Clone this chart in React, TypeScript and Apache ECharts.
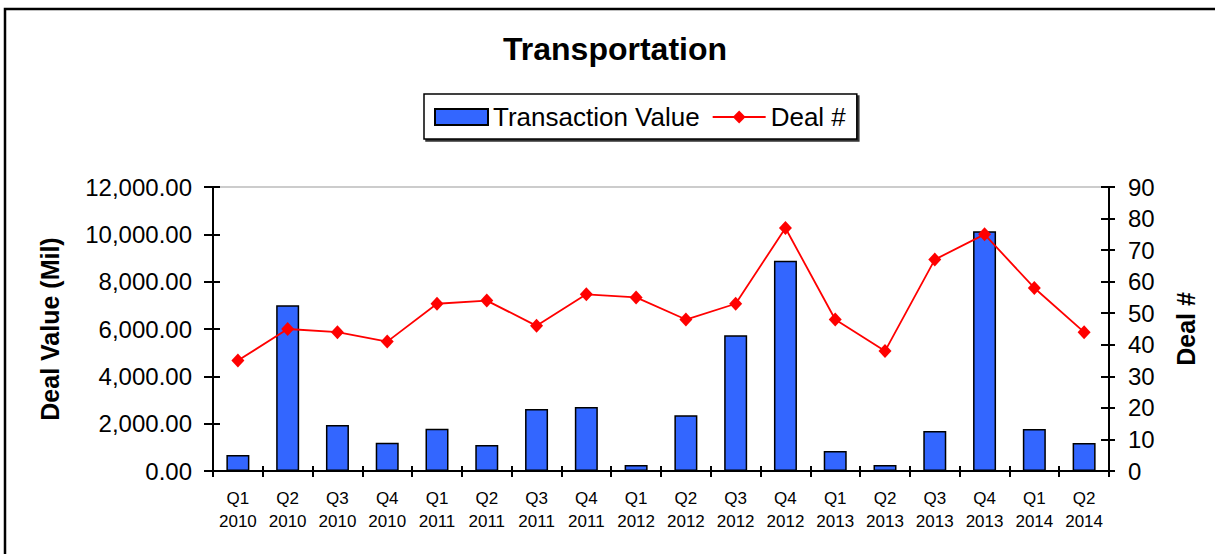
import React, { useEffect, useRef } from "react";
import * as echarts from "echarts";

const categories = [
  "Q1\n2010", "Q2\n2010", "Q3\n2010", "Q4\n2010",
  "Q1\n2011", "Q2\n2011", "Q3\n2011", "Q4\n2011",
  "Q1\n2012", "Q2\n2012", "Q3\n2012", "Q4\n2012",
  "Q1\n2013", "Q2\n2013", "Q3\n2013", "Q4\n2013",
  "Q1\n2014", "Q2\n2014",
];
const transactionValue = [
  680, 7000, 1940, 1190,
  1790, 1100, 2620, 2700,
  250, 2360, 5740, 8880,
  840, 250, 1690, 10130,
  1770, 1180,
];
const dealCount = [
  35, 45, 44, 41,
  53, 54, 46, 56,
  55, 48, 53, 77,
  48, 38, 67, 75,
  58, 44,
];

const FONT = "'Liberation Sans', Arial, sans-serif";

export default function App() {
  const ref = useRef<HTMLDivElement>(null);
  useEffect(() => {
    if (!ref.current) return;
    const chart = echarts.init(ref.current, null, { renderer: "svg" });
    const fmt = (v: number) =>
      v.toLocaleString("en-US", { minimumFractionDigits: 2, maximumFractionDigits: 2 });
    chart.setOption({
      animation: false,
      backgroundColor: "#fff",
      textStyle: { fontFamily: FONT },
      title: {
        text: "Transportation",
        left: 503,
        top: 33,
        padding: 0,
        textStyle: { fontFamily: FONT, fontSize: 32, fontWeight: "bold", color: "#000" },
      },
      graphic: [
        {
          type: "rect",
          shape: { x: 5, y: 9, width: 1240, height: 570 },
          style: { fill: "none", stroke: "#000", lineWidth: 2.5 },
          silent: true,
        },
      ],
      legend: {
        left: 424,
        top: 94,
        padding: [10, 11, 9, 10],
        itemGap: 12,
        itemWidth: 53,
        itemHeight: 16,
        borderColor: "#000",
        borderWidth: 1.5,
        shadowColor: "rgba(0,0,0,0.8)",
        shadowOffsetX: 2,
        shadowOffsetY: 2,
        shadowBlur: 0,
        backgroundColor: "#fff",
        textStyle: { fontFamily: FONT, fontSize: 26, color: "#000" },
        data: [
          { name: "Transaction Value", icon: "rect" },
          { name: "Deal #" },
        ],
      },
      grid: {
        left: 213,
        right: 1215 - 1109,
        top: 187,
        bottom: 554 - 471,
        show: true,
        borderColor: "#999",
        borderWidth: 1,
        containLabel: false,
      },
      xAxis: [
        {
          type: "category",
          data: categories,
          position: "bottom",
          axisLine: { show: true, lineStyle: { color: "#000", width: 2 } },
          axisTick: { show: true, length: 6, inside: false, lineStyle: { color: "#000", width: 2 } },
          axisLabel: {
            color: "#000",
            fontFamily: FONT,
            fontSize: 17,
            lineHeight: 23,
            margin: 16,
            interval: 0,
          },
        },
        {
          type: "category",
          data: categories,
          position: "bottom",
          axisLine: { show: false },
          axisTick: { show: true, length: 5, inside: true, lineStyle: { color: "#000", width: 2 } },
          axisLabel: { show: false },
        },
      ],
      yAxis: [
        {
          type: "value",
          min: 0,
          max: 12000,
          interval: 2000,
          position: "left",
          name: "Deal Value (Mil)",
          nameLocation: "middle",
          nameGap: 151,
          nameTextStyle: { fontFamily: FONT, fontSize: 25, fontWeight: "bold", color: "#000" },
          axisLine: { show: true, lineStyle: { color: "#000", width: 2 } },
          axisTick: { show: true, length: 9, lineStyle: { color: "#000", width: 2 } },
          axisLabel: { color: "#000", fontFamily: FONT, fontSize: 24, margin: 21, formatter: fmt },
          splitLine: { show: false },
        },
        {
          type: "value",
          min: 0,
          max: 90,
          interval: 10,
          position: "right",
          name: "Deal #",
          nameLocation: "middle",
          nameGap: 64,
          nameTextStyle: { fontFamily: FONT, fontSize: 25, fontWeight: "bold", color: "#000" },
          axisLine: { show: true, lineStyle: { color: "#000", width: 2 } },
          axisTick: { show: true, length: 6, lineStyle: { color: "#000", width: 2 } },
          axisLabel: { color: "#000", fontFamily: FONT, fontSize: 24, margin: 19 },
          splitLine: { show: false },
        },
        {
          type: "value",
          min: 0,
          max: 12000,
          interval: 2000,
          position: "left",
          axisLine: { show: false },
          axisTick: { show: true, inside: true, length: 7, lineStyle: { color: "#000", width: 2 } },
          axisLabel: { show: false },
          splitLine: { show: false },
        },
        {
          type: "value",
          min: 0,
          max: 90,
          interval: 10,
          position: "right",
          axisLine: { show: false },
          axisTick: { show: true, inside: true, length: 8, lineStyle: { color: "#000", width: 2 } },
          axisLabel: { show: false },
          splitLine: { show: false },
        },
      ],
      series: [
        {
          name: "Transaction Value",
          type: "bar",
          xAxisIndex: 0,
          yAxisIndex: 0,
          data: transactionValue,
          barWidth: 23,
          itemStyle: { color: "#3366FF", borderColor: "#000", borderWidth: 1.5 },
          z: 2,
        },
        {
          name: "Deal #",
          type: "line",
          xAxisIndex: 0,
          yAxisIndex: 1,
          data: dealCount,
          symbol: "diamond",
          symbolSize: [13, 14],
          showAllSymbol: true,
          lineStyle: { color: "#FF0000", width: 1.8 },
          itemStyle: { color: "#FF0000" },
          z: 3,
        },
      ],
    });
    return () => chart.dispose();
  }, []);
  return (
    <div
      ref={ref}
      style={{ position: "fixed", left: 0, top: 0, width: 1215, height: 554 }}
    />
  );
}
